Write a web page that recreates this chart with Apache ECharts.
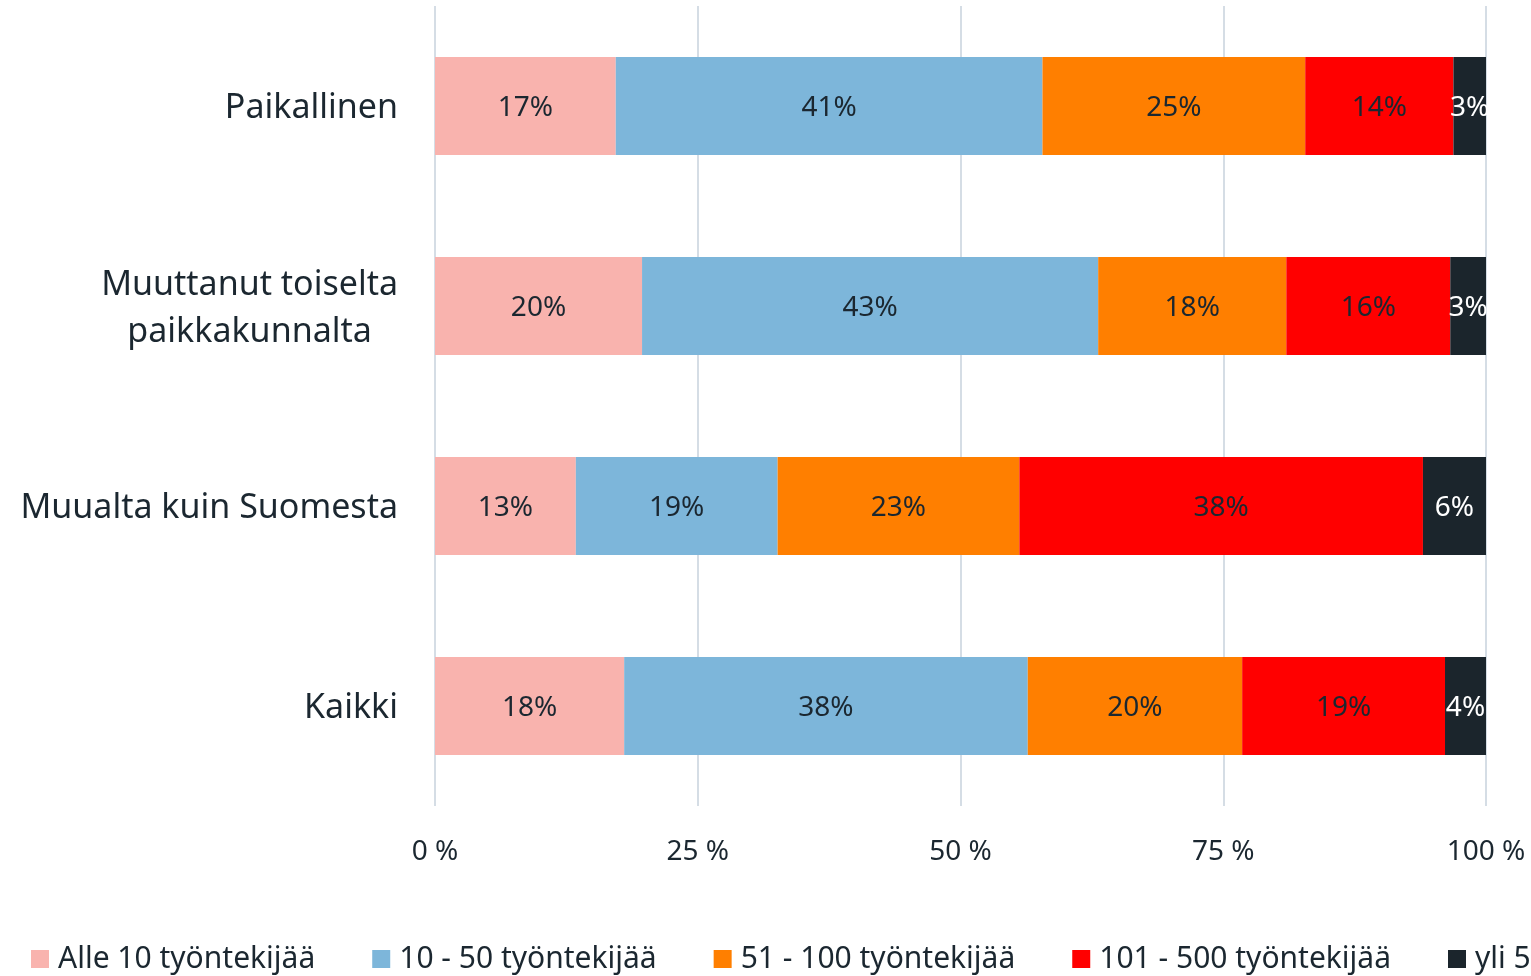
<!DOCTYPE html>
<html>
<head>
<meta charset="utf-8">
<script src="https://cdn.jsdelivr.net/npm/echarts@6/dist/echarts.min.js"></script>
<style>
  html, body { margin: 0; padding: 0; background: #fff; }
  #chart { width: 1531px; height: 976px; }
</style>
</head>
<body>
<div id="chart"></div>
<script>
// kategoriat ylhäältä alas
const categories = ['Paikallinen', 'Muuttanut toiselta\npaikkakunnalta', 'Muualta kuin Suomesta', 'Kaikki'];
const seriesNames = ['Alle 10 työntekijää', '10 - 50 työntekijää', '51 - 100 työntekijää', '101 - 500 työntekijää', 'yli 500 työntekijää'];
const alle10 = [17.2, 19.7, 13.4, 18.0];
const v10_50 = [40.6, 43.4, 19.2, 38.4];
const v51_100 = [25.0, 17.9, 23.0, 20.4];
const v101_500 = [14.1, 15.6, 38.4, 19.3];
const yli500 = [3.1, 3.4, 6.0, 3.9];
const xTicks = [0, 25, 50, 75, 100];

const colors = ['#f9b3ae', '#7db6da', '#ff7f00', '#ff0000', '#1b252c'];
const textColor = '#1b2730';
const font = 'Noto Sans';
const values = [alle10, v10_50, v51_100, v101_500, yli500];

const chart = echarts.init(document.getElementById('chart'));

const series = seriesNames.map((name, i) => ({
    name: name,
    type: 'bar',
    stack: 'total',
    barWidth: '49%',
    data: values[i],
    itemStyle: { color: colors[i] },
    label: {
        show: true,
        position: 'inside',
        offset: [0, 2],
        formatter: p => Math.round(p.value) + '%',
        color: i === 4 ? '#ffffff' : textColor,
        fontFamily: font,
        fontSize: 28
    }
}));

chart.setOption({
    animation: false,
    grid: { left: 435, right: 45, top: 6, bottom: 170 },
    legend: {
        data: seriesNames,
        left: 26,
        bottom: -3,
        width: 3000,
        itemWidth: 18,
        itemHeight: 18,
        itemGap: 57,
        icon: 'rect',
        textStyle: { color: textColor, fontFamily: font, fontSize: 30, padding: [0, 0, 0, 4] }
    },
    xAxis: {
        type: 'value',
        min: 0,
        max: 100,
        interval: 25,
        axisLine: { show: false },
        axisTick: { show: false },
        splitLine: { lineStyle: { color: '#d5dde5', width: 2 } },
        axisLabel: {
            formatter: v => xTicks.includes(v) ? v + ' %' : '',
            color: textColor,
            fontFamily: font,
            fontSize: 28,
            margin: 32
        }
    },
    yAxis: {
        type: 'category',
        inverse: true,
        data: categories,
        axisLine: { show: false },
        axisTick: { show: false },
        axisLabel: {
            margin: 37,
            formatter: v => v.split('\n').map(s => '{c|' + s + '}').join('\n'),
            rich: {
                c: {
                    align: 'center',
                    color: textColor,
                    fontFamily: font,
                    fontSize: 34,
                    lineHeight: 47,
                    padding: [5, 0, 0, 0]
                }
            }
        }
    },
    series: series
});
</script>
</body>
</html>
